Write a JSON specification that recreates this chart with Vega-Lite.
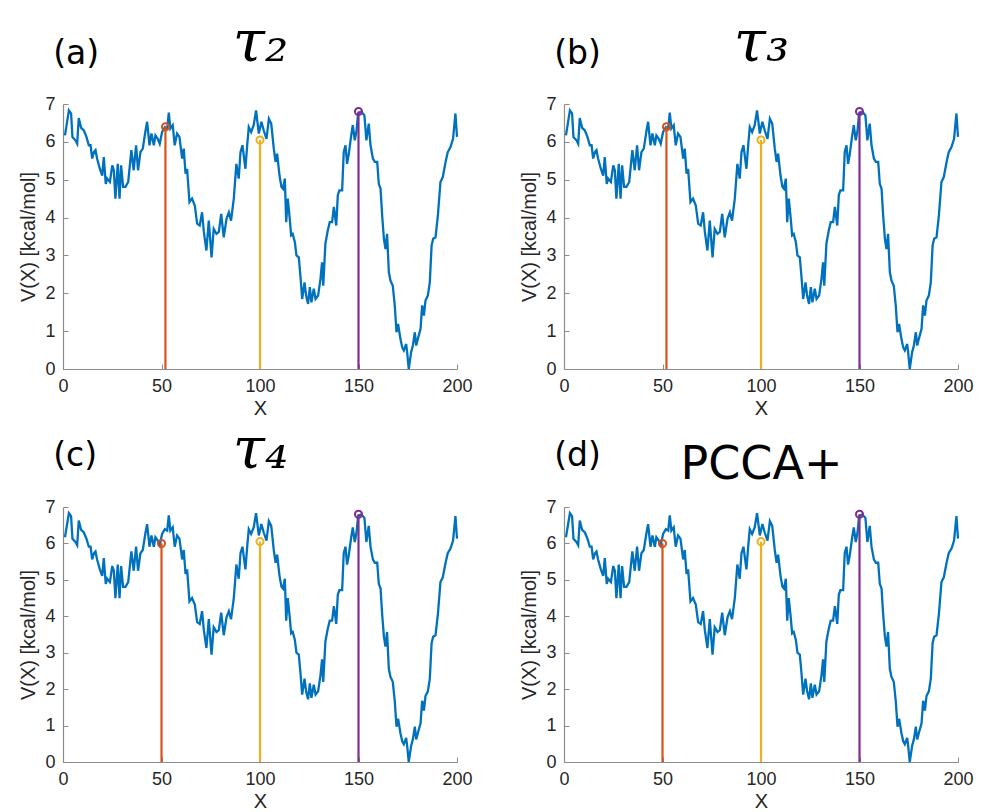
{
  "$schema": "https://vega.github.io/schema/vega-lite/v6.json",
  "background": "white",
  "padding": {"left": 18, "top": 14, "right": 5, "bottom": 0},
  "spacing": 3,
  "datasets": {
    "curve": [
      {"x":1.0,"v":6.17},{"x":3.0,"v":6.83},{"x":4.1,"v":6.75},{"x":4.8,"v":6.13},{"x":6.3,"v":6.04},{"x":7.2,"v":5.95},{"x":8.0,"v":6.63},{"x":9.2,"v":6.37},{"x":10.6,"v":6.30},{"x":11.9,"v":6.13},{"x":13.1,"v":5.91},{"x":14.0,"v":5.91},{"x":14.8,"v":5.56},{"x":15.7,"v":5.73},{"x":16.5,"v":5.78},{"x":17.3,"v":5.56},{"x":18.7,"v":5.29},{"x":19.9,"v":5.11},{"x":20.7,"v":5.60},{"x":21.7,"v":4.89},{"x":22.4,"v":5.03},{"x":23.8,"v":4.94},{"x":25.0,"v":5.38},{"x":25.8,"v":5.25},{"x":26.6,"v":4.50},{"x":27.8,"v":5.42},{"x":28.7,"v":4.50},{"x":29.5,"v":5.38},{"x":30.5,"v":4.81},{"x":31.7,"v":4.81},{"x":33.1,"v":4.94},{"x":34.7,"v":5.78},{"x":35.9,"v":5.25},{"x":37.1,"v":5.91},{"x":38.1,"v":5.25},{"x":39.3,"v":5.73},{"x":40.5,"v":5.82},{"x":41.9,"v":6.30},{"x":42.7,"v":6.53},{"x":43.9,"v":5.91},{"x":44.9,"v":6.22},{"x":46.1,"v":5.91},{"x":46.9,"v":6.17},{"x":48.1,"v":6.08},{"x":49.1,"v":5.95},{"x":50.3,"v":6.26},{"x":51.7,"v":6.39},{"x":52.9,"v":6.35},{"x":53.7,"v":6.77},{"x":54.5,"v":6.35},{"x":55.7,"v":6.44},{"x":56.7,"v":5.91},{"x":57.9,"v":6.22},{"x":59.1,"v":6.13},{"x":60.5,"v":5.56},{"x":61.3,"v":5.82},{"x":62.2,"v":5.16},{"x":63.0,"v":5.29},{"x":64.2,"v":4.41},{"x":65.5,"v":4.50},{"x":66.9,"v":4.32},{"x":68.1,"v":3.84},{"x":69.4,"v":3.79},{"x":70.6,"v":4.14},{"x":71.5,"v":3.62},{"x":72.8,"v":3.13},{"x":74.0,"v":3.92},{"x":75.4,"v":2.95},{"x":76.5,"v":3.70},{"x":77.9,"v":3.57},{"x":79.1,"v":3.62},{"x":80.3,"v":4.10},{"x":81.6,"v":3.48},{"x":83.0,"v":3.97},{"x":84.2,"v":4.14},{"x":85.3,"v":3.92},{"x":86.7,"v":4.50},{"x":88.0,"v":5.42},{"x":89.2,"v":5.03},{"x":90.1,"v":5.73},{"x":91.1,"v":5.91},{"x":92.6,"v":5.29},{"x":93.5,"v":5.91},{"x":94.3,"v":6.39},{"x":95.5,"v":6.26},{"x":96.8,"v":6.44},{"x":98.0,"v":6.83},{"x":99.4,"v":6.22},{"x":100.7,"v":6.53},{"x":101.9,"v":6.30},{"x":103.3,"v":6.08},{"x":104.5,"v":6.61},{"x":105.7,"v":6.48},{"x":107.0,"v":5.82},{"x":107.9,"v":5.47},{"x":108.7,"v":5.69},{"x":109.9,"v":5.11},{"x":110.9,"v":4.81},{"x":111.7,"v":4.76},{"x":112.6,"v":5.03},{"x":113.3,"v":3.88},{"x":114.1,"v":4.50},{"x":115.1,"v":3.97},{"x":115.8,"v":3.53},{"x":116.6,"v":3.57},{"x":117.7,"v":3.35},{"x":118.5,"v":3.00},{"x":119.7,"v":2.95},{"x":120.5,"v":2.47},{"x":121.4,"v":1.85},{"x":122.6,"v":2.29},{"x":123.4,"v":1.94},{"x":124.4,"v":1.72},{"x":125.3,"v":2.16},{"x":126.1,"v":1.76},{"x":127.3,"v":2.12},{"x":128.2,"v":1.85},{"x":129.5,"v":1.94},{"x":130.7,"v":2.38},{"x":131.5,"v":2.82},{"x":132.1,"v":2.20},{"x":133.2,"v":3.31},{"x":134.4,"v":3.66},{"x":135.4,"v":3.88},{"x":136.6,"v":3.88},{"x":137.5,"v":4.28},{"x":138.7,"v":3.79},{"x":139.5,"v":4.59},{"x":140.3,"v":4.72},{"x":141.7,"v":4.72},{"x":142.5,"v":5.73},{"x":143.4,"v":5.91},{"x":144.2,"v":5.42},{"x":145.1,"v":5.69},{"x":146.3,"v":6.17},{"x":147.1,"v":6.44},{"x":148.1,"v":6.04},{"x":149.0,"v":6.30},{"x":149.8,"v":6.75},{"x":151.0,"v":6.79},{"x":152.2,"v":6.75},{"x":153.0,"v":6.70},{"x":154.0,"v":6.04},{"x":155.2,"v":6.48},{"x":156.1,"v":5.91},{"x":157.3,"v":5.56},{"x":158.3,"v":5.47},{"x":159.5,"v":5.47},{"x":160.3,"v":4.89},{"x":161.2,"v":4.76},{"x":162.0,"v":4.06},{"x":162.9,"v":3.44},{"x":163.7,"v":3.17},{"x":164.5,"v":3.57},{"x":165.4,"v":2.56},{"x":166.2,"v":2.34},{"x":167.4,"v":2.20},{"x":168.4,"v":1.68},{"x":169.3,"v":0.97},{"x":170.1,"v":1.19},{"x":171.3,"v":0.79},{"x":172.2,"v":0.57},{"x":173.0,"v":0.49},{"x":174.2,"v":0.66},{"x":174.7,"v":0.44},{"x":175.5,"v":0.00},{"x":176.7,"v":0.44},{"x":177.6,"v":0.62},{"x":178.6,"v":0.97},{"x":179.3,"v":0.62},{"x":180.1,"v":0.79},{"x":181.5,"v":1.06},{"x":182.3,"v":1.68},{"x":183.2,"v":1.41},{"x":184.0,"v":1.81},{"x":185.2,"v":1.94},{"x":186.2,"v":2.29},{"x":187.1,"v":3.26},{"x":187.9,"v":3.44},{"x":189.1,"v":3.48},{"x":190.3,"v":4.06},{"x":191.6,"v":4.94},{"x":192.8,"v":5.07},{"x":194.2,"v":5.47},{"x":195.3,"v":5.73},{"x":196.7,"v":5.86},{"x":198.0,"v":6.08},{"x":199.2,"v":6.75},{"x":200.0,"v":6.13}
    ],
    "markers": [
      {"p":"a","x":52,"v":6.4,"z":0,"c":"#D95319"},{"p":"a","x":100,"v":6.05,"z":0,"c":"#EDB120"},{"p":"a","x":150,"v":6.8,"z":0,"c":"#7E2F8E"},
      {"p":"b","x":52,"v":6.4,"z":0,"c":"#D95319"},{"p":"b","x":100,"v":6.05,"z":0,"c":"#EDB120"},{"p":"b","x":150,"v":6.8,"z":0,"c":"#7E2F8E"},
      {"p":"c","x":50,"v":6.0,"z":0,"c":"#D95319"},{"p":"c","x":100,"v":6.05,"z":0,"c":"#EDB120"},{"p":"c","x":150,"v":6.8,"z":0,"c":"#7E2F8E"},
      {"p":"d","x":50,"v":6.0,"z":0,"c":"#D95319"},{"p":"d","x":100,"v":6.05,"z":0,"c":"#EDB120"},{"p":"d","x":150,"v":6.8,"z":0,"c":"#7E2F8E"}
    ],
    "labels": [
      {"p":"a","label":"(a)","lx":-5,"ly":8.06},{"p":"b","label":"(b)","lx":-5,"ly":8.06},{"p":"c","label":"(c)","lx":-5,"ly":8.13},{"p":"d","label":"(d)","lx":-5,"ly":8.13}
    ]
  },
  "vconcat": [
    {
      "hconcat": [
        {
          "width": 394, "height": 265,
          "resolve": {"axis": {"x": "independent", "y": "independent"}},
          "layer": [
            {"data": {"name": "curve"}, "mark": {"type": "line", "color": "#0072BD", "strokeWidth": 2.3},
             "encoding": {"x": {"field": "x", "type": "quantitative", "scale": {"domain": [0, 200], "nice": false}, "axis": {"orient": "bottom", "title": "X", "values": [0, 50, 100, 150, 200], "labelFlush": false}},
                          "y": {"field": "v", "type": "quantitative", "scale": {"domain": [0, 7], "nice": false}, "axis": {"orient": "left", "title": "V(X) [kcal/mol]", "values": [0,1,2,3,4,5,6,7], "labelOverlap": false, "labelFlush": false}}}},
            {"data": {"name": "markers"}, "transform": [{"filter": "datum.p === 'a'"}], "mark": {"type": "rule", "strokeWidth": 2.2},
             "encoding": {"x": {"field": "x", "type": "quantitative", "axis": null}, "y": {"field": "v", "type": "quantitative", "axis": null}, "y2": {"field": "z"}, "color": {"field": "c", "type": "nominal", "scale": null}}},
            {"data": {"name": "markers"}, "transform": [{"filter": "datum.p === 'a'"}], "mark": {"type": "point", "filled": false, "size": 50, "strokeWidth": 2, "opacity": 1},
             "encoding": {"x": {"field": "x", "type": "quantitative", "axis": null}, "y": {"field": "v", "type": "quantitative", "axis": null}, "color": {"field": "c", "type": "nominal", "scale": null}}},
            {"data": {"name": "labels"}, "transform": [{"filter": "datum.p === 'a'"}], "mark": {"type": "text", "font": "DejaVu Sans", "fontSize": 33, "align": "left", "baseline": "alphabetic", "color": "black"},
             "encoding": {"x": {"field": "lx", "type": "quantitative", "axis": {"orient": "top", "title": "τ₂", "labels": false, "ticks": false, "domain": false, "titleFont": "DejaVu Serif", "titleFontStyle": "italic", "titleFontSize": 58, "titleColor": "black", "titleBaseline": "alphabetic", "titleY": -44}},
                          "y": {"field": "ly", "type": "quantitative", "axis": null}, "text": {"field": "label", "type": "nominal"}}}
          ]
        },
        {
          "width": 394, "height": 265,
          "resolve": {"axis": {"x": "independent", "y": "independent"}},
          "layer": [
            {"data": {"name": "curve"}, "mark": {"type": "line", "color": "#0072BD", "strokeWidth": 2.3},
             "encoding": {"x": {"field": "x", "type": "quantitative", "scale": {"domain": [0, 200], "nice": false}, "axis": {"orient": "bottom", "title": "X", "values": [0, 50, 100, 150, 200], "labelFlush": false}},
                          "y": {"field": "v", "type": "quantitative", "scale": {"domain": [0, 7], "nice": false}, "axis": {"orient": "left", "title": "V(X) [kcal/mol]", "values": [0,1,2,3,4,5,6,7], "labelOverlap": false, "labelFlush": false}}}},
            {"data": {"name": "markers"}, "transform": [{"filter": "datum.p === 'b'"}], "mark": {"type": "rule", "strokeWidth": 2.2},
             "encoding": {"x": {"field": "x", "type": "quantitative", "axis": null}, "y": {"field": "v", "type": "quantitative", "axis": null}, "y2": {"field": "z"}, "color": {"field": "c", "type": "nominal", "scale": null}}},
            {"data": {"name": "markers"}, "transform": [{"filter": "datum.p === 'b'"}], "mark": {"type": "point", "filled": false, "size": 50, "strokeWidth": 2, "opacity": 1},
             "encoding": {"x": {"field": "x", "type": "quantitative", "axis": null}, "y": {"field": "v", "type": "quantitative", "axis": null}, "color": {"field": "c", "type": "nominal", "scale": null}}},
            {"data": {"name": "labels"}, "transform": [{"filter": "datum.p === 'b'"}], "mark": {"type": "text", "font": "DejaVu Sans", "fontSize": 33, "align": "left", "baseline": "alphabetic", "color": "black"},
             "encoding": {"x": {"field": "lx", "type": "quantitative", "axis": {"orient": "top", "title": "τ₃", "labels": false, "ticks": false, "domain": false, "titleFont": "DejaVu Serif", "titleFontStyle": "italic", "titleFontSize": 58, "titleColor": "black", "titleBaseline": "alphabetic", "titleY": -44}},
                          "y": {"field": "ly", "type": "quantitative", "axis": null}, "text": {"field": "label", "type": "nominal"}}}
          ]
        }
      ],
      "spacing": 46
    },
    {
      "hconcat": [
        {
          "width": 394, "height": 255,
          "resolve": {"axis": {"x": "independent", "y": "independent"}},
          "layer": [
            {"data": {"name": "curve"}, "mark": {"type": "line", "color": "#0072BD", "strokeWidth": 2.3},
             "encoding": {"x": {"field": "x", "type": "quantitative", "scale": {"domain": [0, 200], "nice": false}, "axis": {"orient": "bottom", "title": "X", "values": [0, 50, 100, 150, 200], "labelFlush": false}},
                          "y": {"field": "v", "type": "quantitative", "scale": {"domain": [0, 7], "nice": false}, "axis": {"orient": "left", "title": "V(X) [kcal/mol]", "values": [0,1,2,3,4,5,6,7], "labelOverlap": false, "labelFlush": false}}}},
            {"data": {"name": "markers"}, "transform": [{"filter": "datum.p === 'c'"}], "mark": {"type": "rule", "strokeWidth": 2.2},
             "encoding": {"x": {"field": "x", "type": "quantitative", "axis": null}, "y": {"field": "v", "type": "quantitative", "axis": null}, "y2": {"field": "z"}, "color": {"field": "c", "type": "nominal", "scale": null}}},
            {"data": {"name": "markers"}, "transform": [{"filter": "datum.p === 'c'"}], "mark": {"type": "point", "filled": false, "size": 50, "strokeWidth": 2, "opacity": 1},
             "encoding": {"x": {"field": "x", "type": "quantitative", "axis": null}, "y": {"field": "v", "type": "quantitative", "axis": null}, "color": {"field": "c", "type": "nominal", "scale": null}}},
            {"data": {"name": "labels"}, "transform": [{"filter": "datum.p === 'c'"}], "mark": {"type": "text", "font": "DejaVu Sans", "fontSize": 33, "align": "left", "baseline": "alphabetic", "color": "black"},
             "encoding": {"x": {"field": "lx", "type": "quantitative", "axis": {"orient": "top", "title": "τ₄", "labels": false, "ticks": false, "domain": false, "titleFont": "DejaVu Serif", "titleFontStyle": "italic", "titleFontSize": 58, "titleColor": "black", "titleBaseline": "alphabetic", "titleY": -40}},
                          "y": {"field": "ly", "type": "quantitative", "axis": null}, "text": {"field": "label", "type": "nominal"}}}
          ]
        },
        {
          "width": 394, "height": 255,
          "resolve": {"axis": {"x": "independent", "y": "independent"}},
          "layer": [
            {"data": {"name": "curve"}, "mark": {"type": "line", "color": "#0072BD", "strokeWidth": 2.3},
             "encoding": {"x": {"field": "x", "type": "quantitative", "scale": {"domain": [0, 200], "nice": false}, "axis": {"orient": "bottom", "title": "X", "values": [0, 50, 100, 150, 200], "labelFlush": false}},
                          "y": {"field": "v", "type": "quantitative", "scale": {"domain": [0, 7], "nice": false}, "axis": {"orient": "left", "title": "V(X) [kcal/mol]", "values": [0,1,2,3,4,5,6,7], "labelOverlap": false, "labelFlush": false}}}},
            {"data": {"name": "markers"}, "transform": [{"filter": "datum.p === 'd'"}], "mark": {"type": "rule", "strokeWidth": 2.2},
             "encoding": {"x": {"field": "x", "type": "quantitative", "axis": null}, "y": {"field": "v", "type": "quantitative", "axis": null}, "y2": {"field": "z"}, "color": {"field": "c", "type": "nominal", "scale": null}}},
            {"data": {"name": "markers"}, "transform": [{"filter": "datum.p === 'd'"}], "mark": {"type": "point", "filled": false, "size": 50, "strokeWidth": 2, "opacity": 1},
             "encoding": {"x": {"field": "x", "type": "quantitative", "axis": null}, "y": {"field": "v", "type": "quantitative", "axis": null}, "color": {"field": "c", "type": "nominal", "scale": null}}},
            {"data": {"name": "labels"}, "transform": [{"filter": "datum.p === 'd'"}], "mark": {"type": "text", "font": "DejaVu Sans", "fontSize": 33, "align": "left", "baseline": "alphabetic", "color": "black"},
             "encoding": {"x": {"field": "lx", "type": "quantitative", "axis": {"orient": "top", "title": "PCCA+", "labels": false, "ticks": false, "domain": false, "titleFont": "DejaVu Sans", "titleFontStyle": "normal", "titleFontSize": 46, "titleColor": "black", "titleBaseline": "alphabetic", "titleY": -29}},
                          "y": {"field": "ly", "type": "quantitative", "axis": null}, "text": {"field": "label", "type": "nominal"}}}
          ]
        }
      ],
      "spacing": 46
    }
  ],
  "config": {
    "view": {"stroke": null},
    "axis": {
      "grid": false,
      "domainColor": "#8c8c8c",
      "domainWidth": 1.2,
      "tickColor": "#8c8c8c",
      "tickSize": -5,
      "labelPadding": 13,
      "labelOverlap": false,
      "labelColor": "#262626",
      "titleColor": "#262626",
      "labelFont": "Liberation Sans",
      "titleFont": "Liberation Sans",
      "labelFontSize": 18,
      "titleFontSize": 20,
      "titleFontWeight": "normal"
    },
    "axisX": {"titlePadding": 3},
    "axisY": {"titlePadding": 6, "labelOverlap": false}
  }
}
